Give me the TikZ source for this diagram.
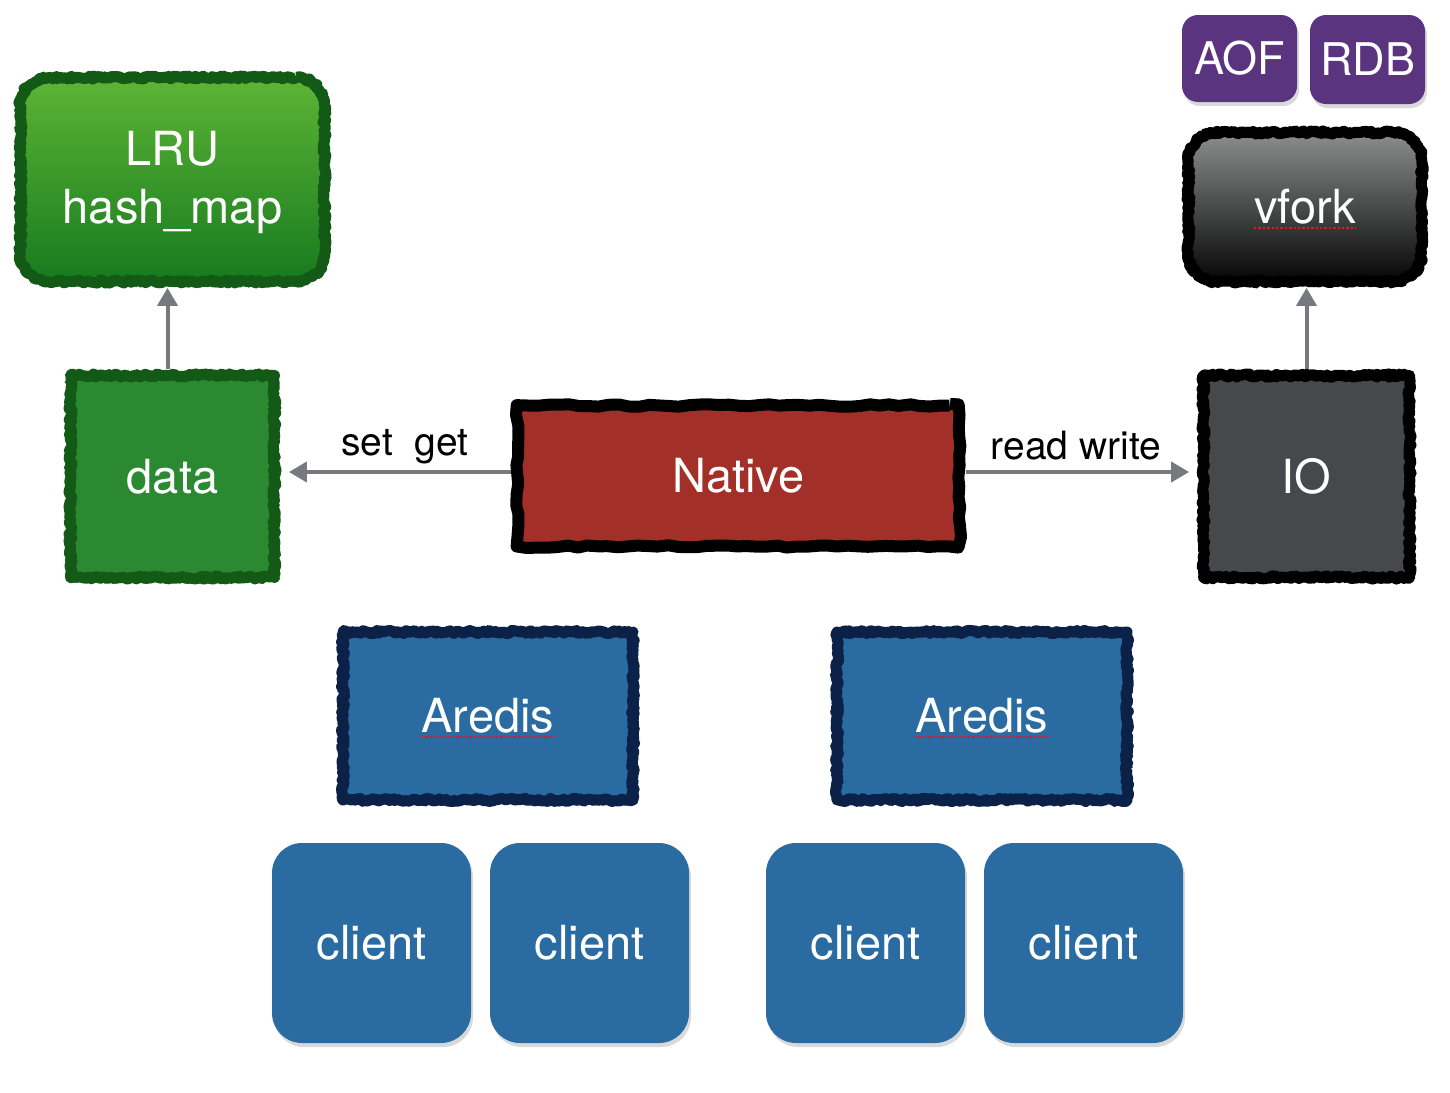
\documentclass[tikz,border=0pt]{standalone}
\usepackage{fontspec}
\setmainfont{TeX Gyre Heros}
\usetikzlibrary{decorations.pathmorphing,shadows,arrows.meta}
\definecolor{lrutop}{HTML}{5DB535}
\definecolor{lrubot}{HTML}{177A1F}
\definecolor{greenedge}{HTML}{145A17}
\definecolor{datafill}{HTML}{2B8A31}
\definecolor{nativefill}{HTML}{A33028}
\definecolor{iofill}{HTML}{46484C}
\definecolor{vtop}{HTML}{8C8E8E}
\definecolor{vbot}{HTML}{050505}
\definecolor{purplefill}{HTML}{5B3480}
\definecolor{bluefill}{HTML}{2A6BA2}
\definecolor{navyedge}{HTML}{0B2148}
\definecolor{arrowgray}{HTML}{76797E}
\definecolor{spellred}{HTML}{E8141E}
\begin{document}
\begin{tikzpicture}[x=0.5pt,y=-0.5pt,
  box/.style={inner sep=0pt, text=white, align=center,
    font=\fontsize{23.5}{29}\selectfont},
  softshadow/.style={drop shadow={opacity=0.3, shadow xshift=1pt, shadow yshift=-2pt}},
  rough/.style={
    postaction={draw=#1, line width=5.5pt, sharp corners, line join=round, decorate,
      decoration={random steps, segment length=1.2pt, amplitude=0.8pt}},
    postaction={draw=#1, line width=0.7pt, sharp corners, line join=round, line cap=round, decorate,
      decoration={random steps, segment length=0.9pt, amplitude=2.6pt}}},
  wobbly/.style={
    postaction={draw=#1, line width=6pt, sharp corners, line join=round, decorate,
      decoration={random steps, segment length=5pt, amplitude=0.6pt}}},
  lbl/.style={inner sep=0pt, text=black, font=\fontsize{19.5}{23}\selectfont},
  conn/.style={draw=arrowgray, line width=2pt, -{Triangle[width=10pt,length=9pt]}},
  spell/.style={draw=spellred, line width=1.3pt, dash pattern=on 1.2pt off 1pt}
]
\useasboundingbox (0,0) rectangle (1450,1092);

% top-left
\node[box, softshadow, top color=lrutop, bottom color=lrubot, rounded corners=14pt,
  minimum width=152pt, minimum height=102pt, rough=greenedge] (lru) at (172.5,179.5) {\rule{0pt}{20pt}LRU\\hash\_map};
\node[box, softshadow, fill=datafill,
  minimum width=102pt, minimum height=101pt, rough=greenedge] (data) at (172.5,476.5) {data};

% centre
\node[box, softshadow, fill=nativefill, rounded corners=5pt,
  minimum width=221pt, minimum height=70.5pt, wobbly=black] (native) at (738.5,476) {Native};

% right
\node[box, softshadow, fill=iofill,
  minimum width=103pt, minimum height=101pt, rough=black] (io) at (1306.5,476.5) {IO};
\node[box, softshadow, top color=vtop, bottom color=vbot, rounded corners=14pt,
  minimum width=116.5pt, minimum height=74.5pt, rough=black] (vfork) at (1305,207) {vfork};
\node[box, softshadow, fill=purplefill, rounded corners=8pt, font=\fontsize{22.5}{27}\selectfont,
  minimum width=57.5pt, minimum height=43.5pt] (aof) at (1239.5,58.5) {AOF};
\node[box, softshadow, fill=purplefill, rounded corners=8pt, font=\fontsize{22.5}{27}\selectfont,
  minimum width=57.5pt, minimum height=44.5pt] (rdb) at (1367.5,59.5) {RDB};

% Aredis
\node[box, softshadow, fill=bluefill,
  minimum width=145pt, minimum height=84pt, rough=navyedge] (ar1) at (488,716) {Aredis};
\node[box, softshadow, fill=bluefill,
  minimum width=145pt, minimum height=84pt, rough=navyedge] (ar2) at (982,716) {Aredis};

% clients
\foreach \n/\cx in {c1/371.5, c2/589.5, c3/865.5, c4/1083.5}
  \node[box, softshadow, fill=bluefill, rounded corners=15pt,
    minimum width=99.5pt, minimum height=100pt] (\n) at (\cx,943) {client};

% labels
\node[lbl] (setget) at (405,447) {set\ \ get};
\node[lbl] (rw) at (1076,446) {read write};

% connectors
\draw[conn, shorten <=3pt, shorten >=7pt] ([yshift=2pt]native.west) -- ([yshift=2pt]native.west -| data.east);
\draw[conn, shorten <=3pt, shorten >=7pt] ([yshift=2pt]native.east) -- ([yshift=2pt]native.east -| io.west);
\draw[conn, shorten <=3pt, shorten >=3pt] ([xshift=-2.5pt]data.north) -- ([xshift=-2.5pt]data.north |- lru.south);
\draw[conn, shorten <=3pt, shorten >=3pt] (io.north) -- (io.north |- vfork.south);

% spell-check underlines
\draw[spell] (1254,228) -- (1356,228);
\draw[spell] (421,737) -- (556,737);
\draw[spell] (915,737) -- (1050,737);
\end{tikzpicture}
\end{document}
